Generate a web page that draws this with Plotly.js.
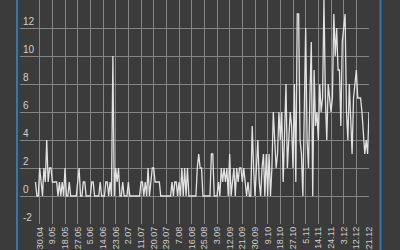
<!DOCTYPE html>
<html>
<head>
<meta charset="utf-8">
<script src="https://cdn.plot.ly/plotly-3.0.1.min.js"></script>
<style>html,body{margin:0;padding:0;background:#3b3b3b;}#chart{width:400px;height:250px;}</style>
</head>
<body>
<div id="chart"></div>
<script>
// Daily counts starting 27.04
const startDate = '2023-04-27';
const values = [
  1,0,0,2,1,0,2,1,4,1,2,2,1,1,1,1,0,1,0,1,
  0,2,0,0,1,0,0,0,0,0,1,2,0,0,1,1,0,0,0,0,
  1,1,0,0,0,0,1,0,0,0,1,1,0,1,0,10,0,2,1,2,
  0,0,1,0,0,0,1,0,0,0,0,0,0,0,0,1,1,0,1,0,
  2,0,1,2,2,1,1,1,1,0,0,0,0,0,0,0,0,1,0,1,
  1,0,1,0,2,0,2,0,2,0,0,0,0,0,0,2,3,2,2,0,
  0,0,0,0,0,3,3,0,0,0,1,0,2,1,2,1,2,0,3,
  0,1,2,0,2,1,2,2,1,2,1,0,1,0,0,5,2,0,2,4,
  1,0,2,3,0,3,0,3,0,2,6,4,2,3,6,4,6,1,4,8,
  2,4,6,5,2,8,1,13,13,4,3,0,7,12,4,2,7,11,0,9,
  5,6,4,8,6,7,14,7,4,8,7,6,7,13,10,12,9,9,5,11,
  12,13,6,4,8,6,3,7,8,9,7,7,7,6,4,3,4,3,6
];
const tickDates = ['2023-04-30','2023-05-09','2023-05-18','2023-05-27','2023-06-05','2023-06-14','2023-06-23',
  '2023-07-02','2023-07-11','2023-07-20','2023-07-29','2023-08-07','2023-08-16','2023-08-25','2023-09-03',
  '2023-09-12','2023-09-21','2023-09-30','2023-10-09','2023-10-18','2023-10-27','2023-11-05','2023-11-14',
  '2023-11-23','2023-12-02','2023-12-11','2023-12-20'];
const tickLabels = ['30.04','9.05','18.05','27.05','5.06','14.06','23.06','2.07','11.07','20.07','29.07',
  '7.08','16.08','25.08','3.09','12.09','21.09','30.09','9.10','18.10','27.10','5.11','14.11','24.11',
  '3.12','12.12','21.12'];
const yTicks = [-2,0,2,4,6,8,10,12,14];
const yLabels = ['-2','0','2','4','6','8','10','12',''];

const dates = [];
const d0 = new Date(startDate + 'T00:00:00Z');
for (let i = 0; i < values.length; i++) {
  const d = new Date(d0.getTime() + i * 86400000);
  dates.push(d.toISOString().slice(0, 10));
}

const trace = {
  x: dates, y: values, type: 'scatter', mode: 'lines',
  line: {color: '#e2e2e2', width: 1.3}, hoverinfo: 'skip'
};
const layout = {
  width: 400, height: 250,
  margin: {l: 20, r: 31, t: 0, b: 26, pad: 0},
  paper_bgcolor: '#3b3b3b', plot_bgcolor: '#3b3b3b',
  showlegend: false,
  font: {family: 'Liberation Sans, Arial, sans-serif', size: 9, color: '#cfcfcf'},
  xaxis: {
    type: 'date', range: ['2023-04-16', '2023-12-20'],
    tickmode: 'array', tickvals: tickDates, ticktext: tickLabels,
    tickangle: -90, ticks: '', showline: false, zeroline: false,
    showgrid: true, gridcolor: '#858585', gridwidth: 1,
    tickfont: {size: 9, color: '#cfcfcf'}
  },
  yaxis: {
    range: [-2, 14], tickmode: 'array', tickvals: yTicks, ticktext: yLabels,
    ticklabelposition: 'inside top', ticks: '', showline: false,
    zeroline: false, showgrid: true, gridcolor: '#858585', gridwidth: 1,
    tickfont: {size: 10, color: '#cfcfcf'}
  },
  shapes: [
    {type: 'line', xref: 'paper', yref: 'paper', x0: -0.0086, x1: -0.0086, y0: -0.2, y1: 1.1,
     line: {color: '#2f7ab0', width: 2}},
    {type: 'line', xref: 'paper', yref: 'paper', x0: 1.033, x1: 1.033, y0: -0.2, y1: 1.1,
     line: {color: '#2f7ab0', width: 2}}
  ]
};
Plotly.newPlot('chart', [trace], layout, {displayModeBar: false, staticPlot: true});
</script>
</body>
</html>
